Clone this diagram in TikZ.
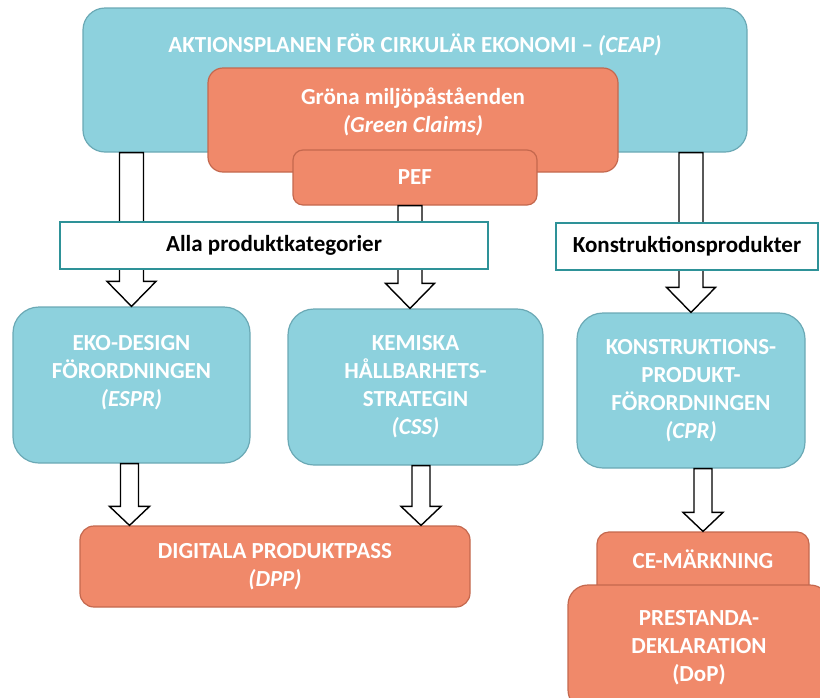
\documentclass[tikz,border=0pt]{standalone}
\usepackage{fontspec}
\setmainfont{Carlito}
\usetikzlibrary{calc}

\definecolor{ceblue}{HTML}{8DD1DD}
\definecolor{ceblueline}{HTML}{6BA9B5}
\definecolor{ceorange}{HTML}{F0896A}
\definecolor{ceorangeline}{HTML}{C4684E}
\definecolor{tealline}{HTML}{2E9298}

\newcommand{\boxfont}{\fontsize{23}{28}\selectfont\bfseries}

\tikzset{
    bluebox/.style = {draw=ceblueline, fill=ceblue, line width=1.2pt, text=white, font=\boxfont, align=center, inner sep=0pt, rounded corners=26pt},
    orangebox/.style = {draw=ceorangeline, fill=ceorange, line width=1.2pt, text=white, font=\boxfont, align=center, inner sep=0pt, rounded corners=15pt},
    catbox/.style = {draw=tealline, fill=white, line width=1.6pt, font=\boxfont, inner sep=0pt},
    boxtext/.style = {text=white, font=\boxfont, align=center},
    blockarrow/.style = {draw=black, fill=white, line width=1.4pt, line join=miter}
}

% shaft half width, head half width, head length, from, to
\newcommand{\blockarrow}[5]{%
    \draw[blockarrow] let \p1 = (#4), \p2 = (#5) in
        (\x1-#1,\y1) -- (\x1+#1,\y1) -- (\x1+#1,\y2+#3) -- (\x1+#2,\y2+#3)
        -- (\x1,\y2) -- (\x1-#2,\y2+#3) -- (\x1-#1,\y2+#3) -- cycle;
}

\begin{document}
\begin{tikzpicture}[x=1pt, y=-1pt]
    \clip (0,0) rectangle (820,697);

    % top level
    \node[bluebox, rounded corners=22pt, minimum width=664pt, minimum height=144pt] (ceap) at (415,80) {};
    \node[boxtext] (ceaptxt) at (415,45) {AKTIONSPLANEN FÖR CIRKULÄR EKONOMI -- \textit{(CEAP)}};

    \node[orangebox, minimum width=410pt, minimum height=104pt] (grona) at (413,120) {};
    \node[boxtext] (gronatxt) at (413,112) {Gröna miljöpåståenden\\\textit{(Green Claims)}};

    \node[orangebox, rounded corners=10pt, minimum width=244pt, minimum height=55pt] (pef) at (415,177.5) {PEF};

    % regulations
    \node[bluebox, minimum width=237pt, minimum height=156pt] (espr) at (131.5,385) {EKO-DESIGN\\FÖRORDNINGEN\\\textit{(ESPR)}\\\mbox{}};
    \node[bluebox, minimum width=255pt, minimum height=156pt] (css) at (415.5,387) {KEMISKA\\HÅLLBARHETS-\\STRATEGIN\\\textit{(CSS)}};
    \node[bluebox, minimum width=228pt, minimum height=155pt] (cpr) at (691,390.5) {KONSTRUKTIONS-\\PRODUKT-\\FÖRORDNINGEN\\\textit{(CPR)}};

    % results
    \node[orangebox, rounded corners=14pt, minimum width=390pt, minimum height=81pt] (dpp) at (275,566.5) {DIGITALA PRODUKTPASS\\\textit{(DPP)}};
    \node[orangebox, rounded corners=12pt, minimum width=212pt, minimum height=68pt, text depth=14pt] (ce) at (703,566) {CE-MÄRKNING};
    \node[orangebox, rounded corners=20pt, minimum width=262pt, minimum height=125pt] (dop) at (699,647.5) {PRESTANDA-\\DEKLARATION\\(DoP)};

    % arrows
    \blockarrow{12}{24.5}{25}{ceap.south -| espr.north}{espr.north}
    \blockarrow{12}{24.5}{25}{[xshift=-5pt]pef.south}{[xshift=-5pt]pef.south |- css.north}
    \blockarrow{12}{24.5}{25}{ceap.south -| cpr.north}{cpr.north}
    \blockarrow{9}{20}{19}{[xshift=-2pt]espr.south}{[xshift=-2pt]espr.south |- dpp.north}
    \blockarrow{9}{20}{19}{[xshift=5.5pt]css.south}{[xshift=5.5pt]css.south |- dpp.north}
    \blockarrow{9}{20}{19}{cpr.south -| ce.north}{ce.north}

    % categories
    \node[catbox, minimum width=428pt, minimum height=47pt] (alla) at (274,245.5) {Alla produktkategorier};
    \node[catbox, minimum width=262pt, minimum height=47pt] (konstr) at (687,246.5) {Konstruktionsprodukter};
\end{tikzpicture}
\end{document}
